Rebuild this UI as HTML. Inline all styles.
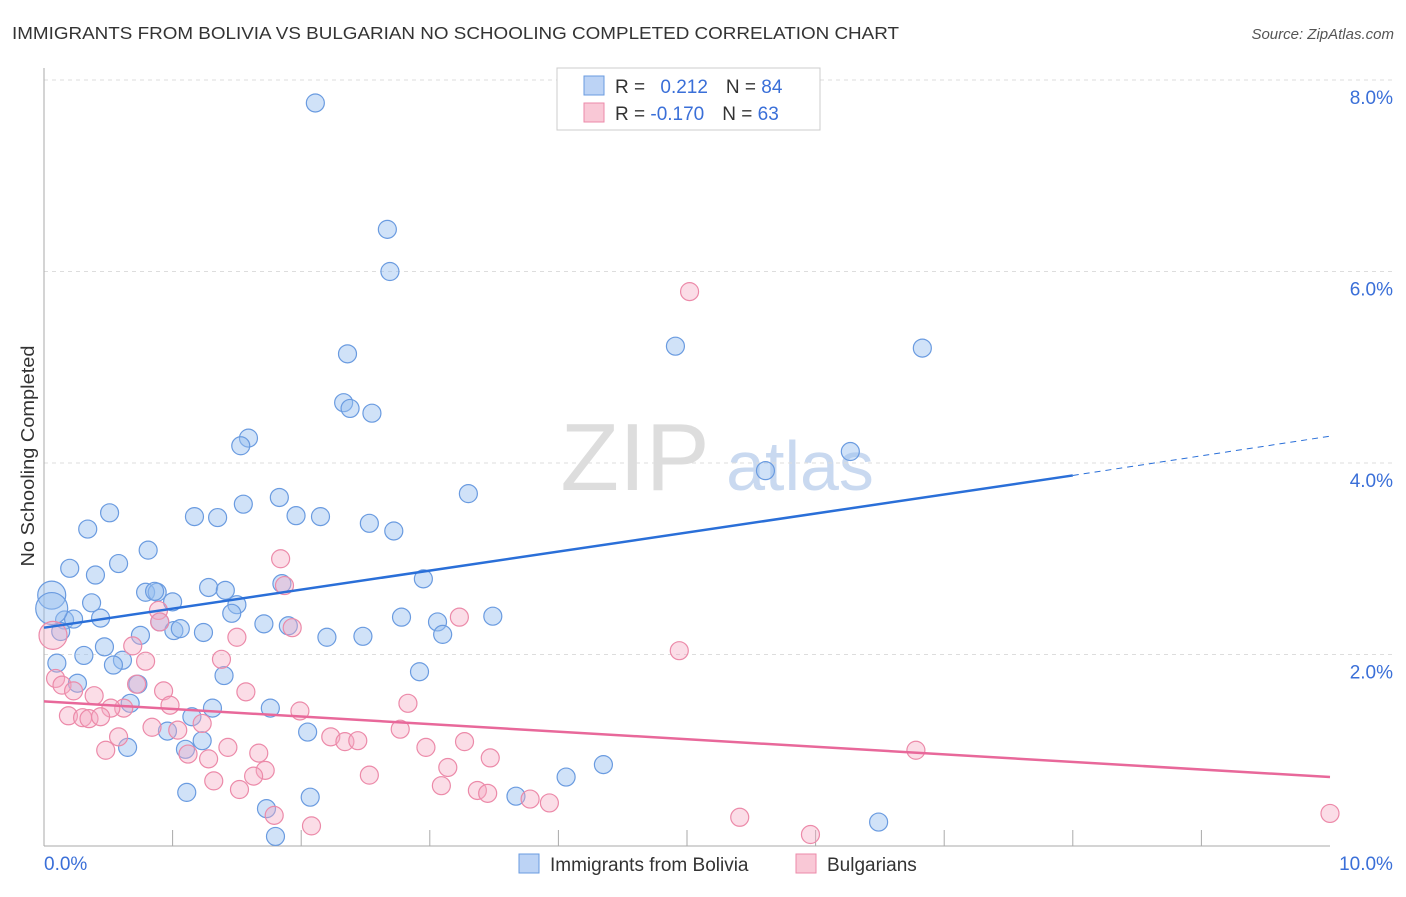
<!DOCTYPE html>
<html><head><meta charset="utf-8"><style>
body{margin:0;background:#fff;font-family:"Liberation Sans",sans-serif}
svg text{font-family:"Liberation Sans",sans-serif}
</style></head><body>
<svg id="c" width="1406" height="892">
<text x="12" y="39" font-size="17.5" fill="#333" textLength="887" lengthAdjust="spacingAndGlyphs">IMMIGRANTS FROM BOLIVIA VS BULGARIAN NO SCHOOLING COMPLETED CORRELATION CHART</text>
<text x="1394" y="39" font-size="15" fill="#555" font-style="italic" text-anchor="end">Source: ZipAtlas.com</text>
<text x="34" y="456" font-size="18" fill="#333" text-anchor="middle" textLength="221" lengthAdjust="spacingAndGlyphs" transform="rotate(-90 34 456)">No Schooling Completed</text>
<text x="635" y="490" font-size="96" fill="#ddd" font-family="Liberation Serif" text-anchor="middle">ZIP</text>
<text x="800" y="490" font-size="70" fill="#c9d9f0" text-anchor="middle">atlas</text>
<g id="grid"></g><g id="pts"></g><g id="lines"></g>
<g>
<rect x="557" y="68" width="263" height="62" fill="#fff" stroke="#ccc"/>
<rect x="584" y="76" width="20" height="19" fill="#bcd3f5" stroke="#6a9be0"/>
<rect x="584" y="103" width="20" height="19" fill="#f9c8d6" stroke="#ec8aa9"/>
<text x="615" y="93" font-size="19" fill="#333">R = <tspan fill="#3a6fd8" dx="10">0.212</tspan><tspan dx="18">N = </tspan><tspan fill="#3a6fd8">84</tspan></text>
<text x="615" y="120" font-size="19" fill="#333">R = <tspan fill="#3a6fd8">-0.170</tspan><tspan dx="18">N = </tspan><tspan fill="#3a6fd8">63</tspan></text>
</g>
<g>
<rect x="519" y="854" width="20" height="19" fill="#bcd3f5" stroke="#6a9be0"/>
<text x="550" y="871" font-size="19" fill="#333">Immigrants from Bolivia</text>
<rect x="796" y="854" width="20" height="19" fill="#f9c8d6" stroke="#ec8aa9"/>
<text x="827" y="871" font-size="19" fill="#333">Bulgarians</text>
</g>
</svg>
<script>
const yTicks=[2,4,6,8];
const xTickLabels=["0.0%","10.0%"];
const bolX=[2.11,2.67,2.69,2.36,4.91,6.83,2.33,2.38,2.55,1.59,1.53,6.27,5.61,3.30,0.51,0.34,1.83,1.55,1.17,1.35,1.96,2.15,2.53,2.72,0.81,0.58,0.20,0.40,2.95,1.85,1.28,1.41,0.79,0.88,0.86,1.0,0.37,1.50,0.06,1.46,0.90,0.16,0.23,0.44,1.01,1.06,1.24,1.71,1.90,2.78,3.06,3.49,0.75,0.13,0.47,2.2,2.48,3.1,0.31,0.10,0.61,0.54,1.40,2.92,0.26,0.73,0.67,1.31,1.76,1.15,0.96,2.05,1.23,0.65,1.10,4.06,4.35,1.11,2.07,3.67,1.73,6.49,1.80,0.06];
const bolY=[7.76,6.44,6.0,5.14,5.22,5.20,4.63,4.57,4.52,4.26,4.18,4.12,3.92,3.68,3.48,3.31,3.64,3.57,3.44,3.43,3.45,3.44,3.37,3.29,3.09,2.95,2.90,2.83,2.79,2.74,2.70,2.67,2.65,2.65,2.66,2.55,2.54,2.52,2.62,2.43,2.34,2.36,2.37,2.38,2.25,2.27,2.23,2.32,2.30,2.39,2.34,2.40,2.2,2.24,2.08,2.18,2.19,2.21,1.99,1.91,1.94,1.89,1.78,1.82,1.70,1.69,1.49,1.44,1.44,1.35,1.20,1.19,1.10,1.03,1.01,0.72,0.85,0.56,0.51,0.52,0.39,0.25,0.10,2.48];
const bolR=[9,9,9,9,9,9,9,9,9,9,9,9,9,9,9,9,9,9,9,9,9,9,9,9,9,9,9,9,9,9,9,9,9,9,9,9,9,9,14,9,9,9,9,9,9,9,9,9,9,9,9,9,9,9,9,9,9,9,9,9,9,9,9,9,9,9,9,9,9,9,9,9,9,9,9,9,9,9,9,9,9,9,9,16];
const bulX=[5.02,1.84,4.94,3.23,1.87,1.93,0.89,0.90,1.50,0.69,0.79,1.38,0.07,0.09,0.14,0.23,0.39,0.93,1.57,0.72,0.98,0.62,0.52,2.83,1.99,0.19,0.30,0.35,0.44,1.23,0.84,1.04,2.77,2.23,2.34,2.44,0.58,3.27,1.43,2.97,0.48,1.67,1.12,1.28,3.47,6.78,3.14,1.72,2.53,1.63,1.32,3.09,1.52,3.37,3.45,3.78,3.93,1.79,2.08,5.41,5.96,10.0];
const bulY=[5.79,3.0,2.04,2.39,2.72,2.28,2.46,2.34,2.18,2.09,1.93,1.95,2.2,1.75,1.68,1.62,1.57,1.62,1.61,1.69,1.47,1.44,1.44,1.49,1.41,1.36,1.34,1.33,1.35,1.28,1.24,1.21,1.22,1.14,1.09,1.10,1.14,1.09,1.03,1.03,1.0,0.97,0.96,0.91,0.92,1.0,0.82,0.79,0.74,0.73,0.68,0.63,0.59,0.58,0.55,0.49,0.45,0.32,0.21,0.30,0.12,0.34];
const bolLine=[[0,2.28],[8,3.87],[10,4.28]];
const bulLine=[[0,1.51],[10,0.72]];
const NS="http://www.w3.org/2000/svg";
const X=v=>44+v*128.6, Y=v=>846-v*95.75;
function mk(t,a,p){const e=document.createElementNS(NS,t);for(const k in a)e.setAttribute(k,a[k]);p.appendChild(e);return e;}
const g=document.getElementById('grid');
yTicks.forEach(t=>{
 const l=mk('line',{x1:44,x2:1394,y1:Y(t),y2:Y(t),stroke:'#ddd','stroke-dasharray':'4,4'},g);
 
 
 const tx=mk('text',{x:1393,y:Y(t)+24,'font-size':19,fill:'#3a6fd8','text-anchor':'end'},g);tx.textContent=t.toFixed(1)+'%';
 
 
});
const ax=mk('line',{x1:44,x2:44,y1:68,y2:846,stroke:'#aaa'},g);


const bx=mk('line',{x1:44,x2:1330,y1:846,y2:846,stroke:'#aaa'},g);


for(let i=1;i<=9;i++){const t=mk('line',{x1:X(i),x2:X(i),y1:830,y2:846,stroke:'#aaa'},g);
 
 }
[[0,'start',44],[10,'middle',1366]].forEach((a,i)=>{const t=mk('text',{x:a[2],y:870,'font-size':19,fill:'#3a6fd8','text-anchor':a[1]},g);t.textContent=xTickLabels[i];
 
 });
const p=document.getElementById('pts');
bolX.forEach((x,i)=>{const c=mk('circle',{cx:X(x),cy:Y(bolY[i]),r:bolR[i],fill:'rgba(150,190,240,0.45)',stroke:'#6a9be0','stroke-width':1.2},p);
 
 });
bulX.forEach((x,i)=>{const c=mk('circle',{cx:X(x),cy:Y(bulY[i]),r:i==12?14:9,fill:'rgba(245,170,195,0.4)',stroke:'#ec8aa9','stroke-width':1.2},p);
 
 });
const L=document.getElementById('lines');
const b1=mk('line',{x1:X(bolLine[0][0]),y1:Y(bolLine[0][1]),x2:X(bolLine[1][0]),y2:Y(bolLine[1][1]),stroke:'#2a6fd8','stroke-width':2.5},L);


const b2=mk('line',{x1:X(bolLine[1][0]),y1:Y(bolLine[1][1]),x2:X(bolLine[2][0]),y2:Y(bolLine[2][1]),stroke:'#2a6fd8','stroke-width':1,'stroke-dasharray':'6,5'},L);


const p1=mk('line',{x1:X(bulLine[0][0]),y1:Y(bulLine[0][1]),x2:X(bulLine[1][0]),y2:Y(bulLine[1][1]),stroke:'#e8689a','stroke-width':2.5},L);


</script>
</body></html>
